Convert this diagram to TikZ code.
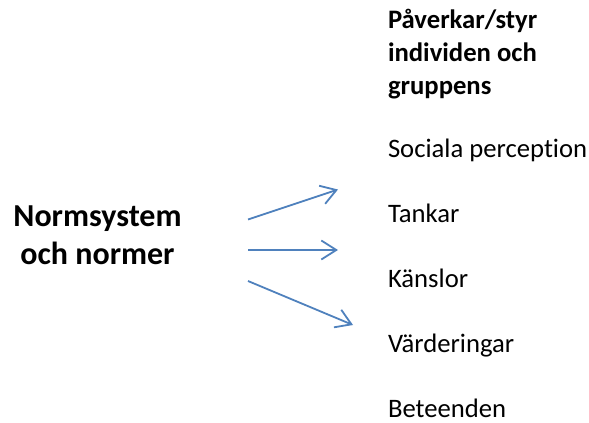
\documentclass[tikz,border=0pt]{standalone}
\usepackage{fontspec}
\setmainfont{Carlito}[Ligatures=NoCommon]
\usetikzlibrary{arrows.meta}
\definecolor{pilblue}{HTML}{4F81BD}
\begin{document}
\begin{tikzpicture}[x=1pt, y=-1pt, every node/.style={inner sep=0pt, outer sep=0pt}]
  \useasboundingbox (0,0) rectangle (589,423);
  \tikzset{
    rubrik/.style={anchor=base west, align=left, font=\bfseries\fontsize{26.67}{33}\selectfont},
    post/.style={anchor=base west, font=\fontsize{26.67}{32}\selectfont},
    pil/.style={draw=pilblue, line width=1.8pt, -{Straight Barb[length=15pt, width=19pt]}}
  }
  \node[align=center, anchor=south, font=\bfseries\fontsize{32}{38}\selectfont] (norm) at (97.5,265) {Normsystem\\och normer};
  \node[rubrik] (rubrik) at (388,94) {Påverkar/styr\\individen och\\gruppens};
  \foreach \n/\y/\t in {soc/157.5/Sociala perception, tank/222.5/Tankar, kansl/287.5/Känslor, vard/352.5/Värderingar, bet/417.5/Beteenden} {
    \node[post] (\n) at (388,\y) {\t};
  }
  % pilarna
  \coordinate (s1) at (248,219.5);
  \coordinate (s2) at (248,250);
  \coordinate (s3) at (248,281);
  \coordinate (m1) at (338,189.5);
  \coordinate (m2) at (338,250);
  \coordinate (m3) at (353,325);
  \draw[pil] (s1) -- (m1);
  \draw[pil] (s2) -- (m2);
  \draw[pil] (s3) -- (m3);
\end{tikzpicture}
\end{document}
